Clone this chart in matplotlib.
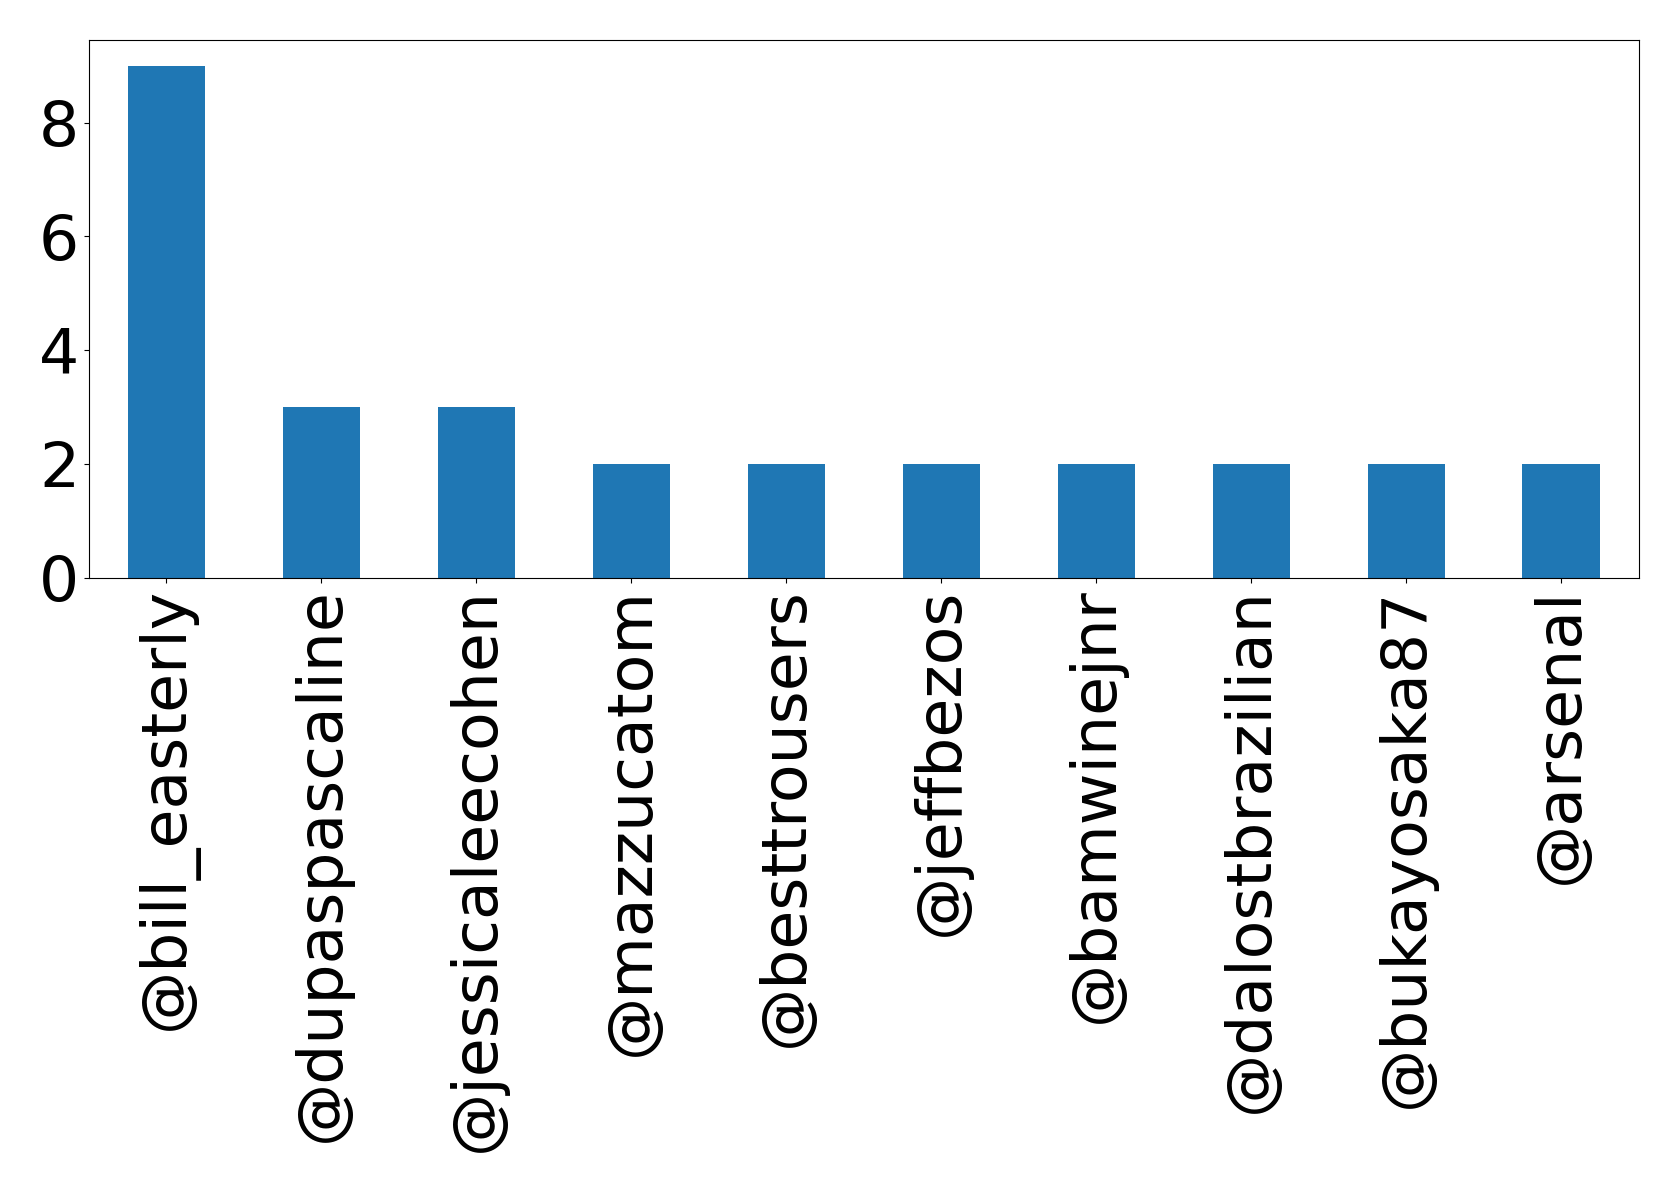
import matplotlib
matplotlib.use("Agg")
import matplotlib.pyplot as plt
import pandas as pd

# mentions per account
accounts = ["@bill_easterly", "@dupaspascaline", "@jessicaleecohen", "@mazzucatom",
            "@besttrousers", "@jeffbezos", "@bamwinejnr", "@dalostbrazilian",
            "@bukayosaka87", "@arsenal"]
counts = [9, 3, 3, 2, 2, 2, 2, 2, 2, 2]

s = pd.Series(counts, index=accounts)

fig = plt.figure(figsize=(16.79, 11.86), dpi=100)
ax = fig.add_subplot(111)
s.plot(kind="bar", ax=ax, fontsize=45.5)
fig.subplots_adjust(left=0.053, right=0.976, top=0.966, bottom=0.513)

fig.savefig("out.png", dpi=100)
